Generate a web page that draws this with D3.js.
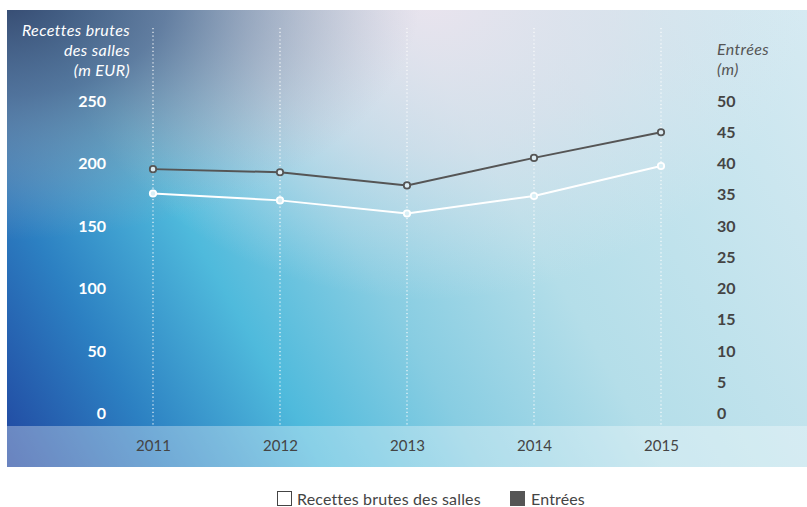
<!DOCTYPE html>
<html>
<head>
<meta charset="utf-8">
<script src="https://cdn.jsdelivr.net/npm/d3@7"></script>
<style>
  html, body { margin: 0; padding: 0; background: #fff; }
  svg { display: block; }
  text { font-family: Lato, "Open Sans", sans-serif; }
</style>
</head>
<body>
<svg id="chart" width="807" height="507"></svg>
<script>
// Data
const years = ["2011", "2012", "2013", "2014", "2015"];
const recettes = [176, 170.5, 160, 174, 198];      // m EUR (left axis)
const entrees = [39.1, 38.6, 36.5, 40.9, 45.0];    // m (right axis)
const leftTicks = [0, 50, 100, 150, 200, 250];
const rightTicks = [0, 5, 10, 15, 20, 25, 30, 35, 40, 45, 50];
const leftTitle = ["Recettes brutes", "des salles", "(m EUR)"];
const rightTitle = ["Entrées", "(m)"];
const legendLabels = ["Recettes brutes des salles", "Entrées"];

const svg = d3.select("#chart");
const panel = { x0: 7, y0: 10, x1: 807, y1: 467, band: 426 };

// Background gradients
const defs = svg.append("defs");
const base = defs.append("linearGradient").attr("id", "bgBase")
  .attr("gradientUnits", "userSpaceOnUse")
  .attr("x1", panel.x0).attr("y1", panel.y1).attr("x2", panel.x1).attr("y2", panel.y0);
[[0, "#2146a0"], [0.15, "#2c80c2"], [0.3, "#4fbadc"], [0.45, "#88cde2"], [0.62, "#b4dee9"], [1, "#d6eaf2"]]
  .forEach(([o, c]) => base.append("stop").attr("offset", o).attr("stop-color", c));

// slate shading spreading from the top-left corner
const tl = defs.append("radialGradient").attr("id", "bgTL")
  .attr("gradientUnits", "userSpaceOnUse").attr("cx", 0).attr("cy", 0).attr("r", 240)
  .attr("gradientTransform", "scale(1.75,1)");
[[0, "#34496f", 1], [0.4, "#566a90", 0.8], [0.75, "#8a8ea8", 0.35], [1, "#a8a6bc", 0]]
  .forEach(([o, c, a]) => tl.append("stop").attr("offset", o).attr("stop-color", c).attr("stop-opacity", a));

// pale mauve glow along the top
const tm = defs.append("radialGradient").attr("id", "bgTM")
  .attr("gradientUnits", "userSpaceOnUse").attr("cx", 430).attr("cy", 0).attr("r", 300)
  .attr("gradientTransform", "translate(430,0) scale(1.25,1) translate(-430,0)");
[[0, "#ece4ee", 0.95], [0.5, "#e6e2ec", 0.6], [1, "#e2e6ee", 0]]
  .forEach(([o, c, a]) => tm.append("stop").attr("offset", o).attr("stop-color", c).attr("stop-opacity", a));

const w = panel.x1 - panel.x0, h = panel.y1 - panel.y0;
svg.append("rect").attr("x", panel.x0).attr("y", panel.y0).attr("width", w).attr("height", h).attr("fill", "url(#bgBase)");
svg.append("rect").attr("x", panel.x0).attr("y", panel.y0).attr("width", w).attr("height", h).attr("fill", "url(#bgTM)");
svg.append("rect").attr("x", panel.x0).attr("y", panel.y0).attr("width", w).attr("height", h).attr("fill", "url(#bgTL)");
// Lighter band behind the year labels
svg.append("rect").attr("x", panel.x0).attr("y", panel.band).attr("width", w).attr("height", panel.y1 - panel.band)
  .attr("fill", "#ffffff").attr("opacity", 0.33);

// Scales
const x = d3.scalePoint().domain(years).range([153, 661]);
const yL = d3.scaleLinear().domain([0, 250]).range([413.5, 101]);
const yR = d3.scaleLinear().domain([0, 50]).range([413.5, 101]);

// Dotted vertical guides
svg.append("g").selectAll("line").data(years).join("line")
  .attr("x1", d => x(d)).attr("x2", d => x(d))
  .attr("y1", 28).attr("y2", panel.band)
  .attr("stroke", "#ffffff").attr("stroke-width", 1.2)
  .attr("stroke-dasharray", "1.2,2.6").attr("opacity", 0.9);

// Axes
const gL = svg.append("g").attr("transform", "translate(106,0)")
  .call(d3.axisLeft(yL).tickValues(leftTicks).tickSize(0).tickPadding(0));
const gR = svg.append("g").attr("transform", "translate(717,0)")
  .call(d3.axisRight(yR).tickValues(rightTicks).tickSize(0).tickPadding(0));
const gX = svg.append("g").attr("transform", "translate(0,440.5)")
  .call(d3.axisBottom(x).tickSize(0).tickPadding(0));
[gL, gR, gX].forEach(g => g.select(".domain").remove());
gL.selectAll("text").attr("fill", "#ffffff").attr("font-size", 16).attr("font-weight", 700).attr("font-family", "Lato, sans-serif");
gR.selectAll("text").attr("fill", "#444444").attr("font-size", 16).attr("font-weight", 700).attr("font-family", "Lato, sans-serif");
gX.selectAll("text").attr("fill", "#444444").attr("font-size", 15).attr("font-family", "Lato, sans-serif");

// Axis titles
svg.append("text").attr("x", 130).attr("y", 36).attr("text-anchor", "end")
  .attr("fill", "#ffffff").attr("font-size", 16).attr("letter-spacing", 0.4).attr("font-style", "italic")
  .selectAll("tspan").data(leftTitle).join("tspan")
  .attr("x", 130).attr("dy", (d, i) => i ? 20 : 0).text(d => d);
svg.append("text").attr("x", 717).attr("y", 55).attr("text-anchor", "start")
  .attr("fill", "#555555").attr("font-size", 16).attr("letter-spacing", 0.4).attr("font-style", "italic")
  .selectAll("tspan").data(rightTitle).join("tspan")
  .attr("x", 717).attr("dy", (d, i) => i ? 20 : 0).text(d => d);

// Lines
const series = [
  { values: recettes, y: yL, color: "#ffffff", fill: "#d8eff6" },
  { values: entrees, y: yR, color: "#555555", fill: "#dcecf3" }
];
series.forEach(s => {
  const pts = years.map((yr, i) => [x(yr), s.y(s.values[i])]);
  svg.append("path").attr("d", d3.line()(pts))
    .attr("fill", "none").attr("stroke", s.color).attr("stroke-width", 2);
  svg.append("g").selectAll("circle").data(pts).join("circle")
    .attr("cx", d => d[0]).attr("cy", d => d[1]).attr("r", 3.2)
    .attr("fill", s.fill).attr("stroke", s.color).attr("stroke-width", 1.8);
});

// Legend
const legend = svg.append("g");
legend.append("rect").attr("x", 277.5).attr("y", 491.5).attr("width", 14).attr("height", 14)
  .attr("fill", "#ffffff").attr("stroke", "#444444").attr("stroke-width", 1);
legend.append("text").attr("x", 297).attr("y", 505).attr("fill", "#444444").attr("font-size", 16)
  .attr("letter-spacing", 0.15).text(legendLabels[0]);
legend.append("rect").attr("x", 510).attr("y", 491).attr("width", 15).attr("height", 15).attr("fill", "#555555");
legend.append("text").attr("x", 531).attr("y", 505).attr("fill", "#444444").attr("font-size", 16)
  .attr("letter-spacing", 0.15).text(legendLabels[1]);
</script>
</body>
</html>
